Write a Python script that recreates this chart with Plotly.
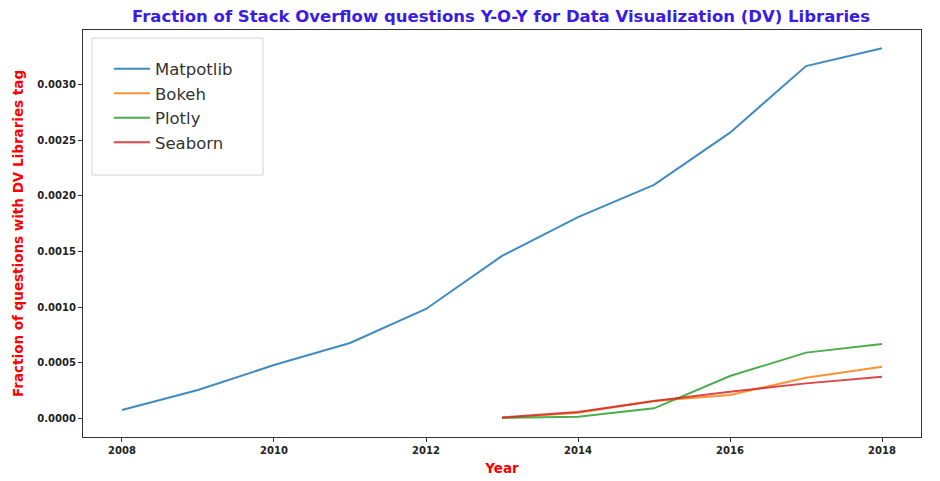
import plotly.graph_objects as go

years_all = [2008, 2009, 2010, 2011, 2012, 2013, 2014, 2015, 2016, 2017, 2018]
years_new = [2013, 2014, 2015, 2016, 2017, 2018]

matplotlib_vals = [0.000072, 0.000252, 0.000477, 0.000676, 0.000982, 0.00146, 0.00181, 0.0021, 0.00257, 0.00317, 0.00333]
bokeh_vals = [0.000002, 0.000048, 0.000153, 0.000207, 0.000363, 0.000462]
plotly_vals = [0.000002, 0.000012, 0.000087, 0.000378, 0.000589, 0.000667]
seaborn_vals = [0.000005, 0.000054, 0.000153, 0.000237, 0.000312, 0.000372]

series = [
    ("Matpotlib", years_all, matplotlib_vals, "rgba(31,119,180,0.85)"),
    ("Bokeh", years_new, bokeh_vals, "rgba(255,127,14,0.85)"),
    ("Plotly", years_new, plotly_vals, "rgba(44,160,44,0.85)"),
    ("Seaborn", years_new, seaborn_vals, "rgba(214,39,40,0.85)"),
]

fig = go.Figure()
for name, x, y, c in series:
    fig.add_trace(go.Scatter(x=x, y=y, mode="lines", name=name,
                             line=dict(color=c, width=2)))

axis_common = dict(showgrid=False, zeroline=False, showline=True, linecolor="#333",
                   linewidth=1.2, mirror=True, ticks="outside", ticklen=4,
                   tickcolor="#333", automargin=False,
                   tickfont=dict(family="DejaVu Sans", size=10, color="#222", weight="bold"))

# legend frame
fig.add_shape(type="rect", xref="paper", yref="paper",
              x0=0.0107, x1=0.2148, y0=0.6437, y1=0.980,
              line=dict(color="#d4d4d4", width=1), fillcolor="white", layer="below")

fig.update_layout(
    width=940, height=481,
    margin=dict(l=83, r=19, t=30, b=44),
    paper_bgcolor="white", plot_bgcolor="white",
    title=dict(text="Fraction of Stack Overflow questions Y-O-Y for Data Visualization (DV) Libraries",
               x=0.533, xanchor="center", y=0.966, yanchor="middle",
               font=dict(family="DejaVu Sans", size=16.5, color="#3a1de0", weight="bold")),
    legend=dict(x=0.031, y=0.947, xanchor="left", yanchor="top",
                bgcolor="rgba(0,0,0,0)", borderwidth=0,
                font=dict(family="DejaVu Sans", size=16.5, color="#333"),
                itemwidth=36),
    xaxis=dict(range=[2007.487, 2018.513], tickvals=[2008, 2010, 2012, 2014, 2016, 2018],
               title=dict(text="Year", standoff=8,
                          font=dict(family="DejaVu Sans", size=13.5, color="red", weight="bold")),
               **axis_common),
    yaxis=dict(range=[-0.000171, 0.003495], dtick=0.0005, tick0=0, tickformat=".4f",
               title=dict(text="Fraction of questions with DV Libraries tag", standoff=10,
                          font=dict(family="DejaVu Sans", size=13.5, color="red", weight="bold")),
               **axis_common),
)

fig.write_html("out.html")
